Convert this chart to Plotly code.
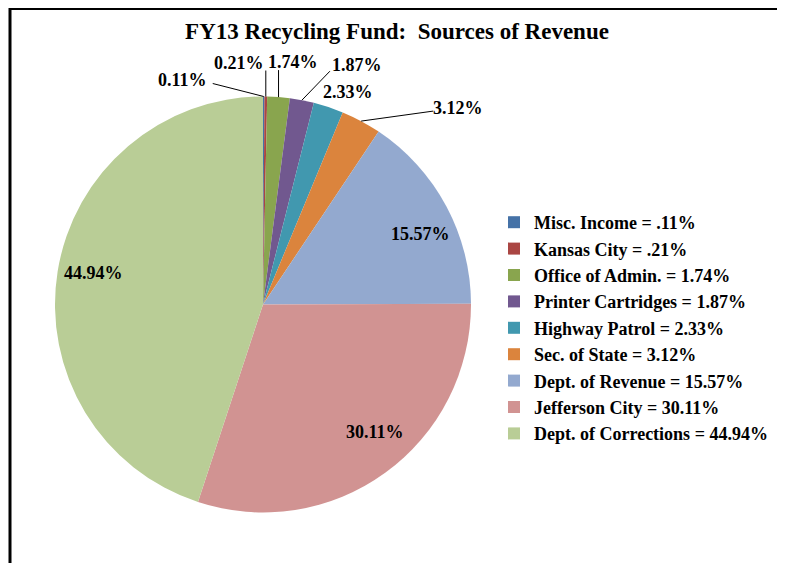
import math
import plotly.graph_objects as go

# ---------------- data ----------------
categories = ["Misc. Income", "Kansas City", "Office of Admin.", "Printer Cartridges",
              "Highway Patrol", "Sec. of State", "Dept. of Revenue", "Jefferson City",
              "Dept. of Corrections"]
values = [0.11, 0.21, 1.74, 1.87, 2.33, 3.12, 15.57, 30.11, 44.94]
title_text = "FY13 Recycling Fund:  Sources of Revenue"

# ---------------- styling ----------------
colors = ["#4572A7", "#AA4643", "#89A54E", "#71588F", "#4198AF", "#DB843D",
          "#93A9CF", "#D19392", "#B9CD96"]
W, H = 785, 563
OFF = 8                               # page body margin
CX, CY, R = 263, 304.5, 208          # pie centre / radius in window pixels
FONT = "Liberation Serif"

# label placement (pixel offsets from the slice's outer mid-point)
# (text_dx, text_dy, line_end_dx, line_end_dy or None)
label_offsets = [
    (-81, -17, -51, -13),
    (-27, -34, 0, -26),
    (14, -35, 0, -27),
    (55, -35, 28, -29),
    (20, -15, None, None),
    (97, -13, 72, -10),
    (-26, 28, None, None),
    (-10, -41, None, None),
    (36, 1, None, None),
]


def px(x):
    return (x - OFF) / W


def py(y):
    return 1 - (y - OFF) / H


def fmt_legend(v):
    s = f"{v:.2f}%"
    return s[1:] if s.startswith("0") else s


legend_labels = [f"{c} = {fmt_legend(v)}" for c, v in zip(categories, values)]

fig = go.Figure()
fig.add_trace(go.Pie(
    labels=legend_labels,
    values=values,
    sort=False,
    direction="clockwise",
    rotation=0,
    marker=dict(colors=colors, line=dict(width=0)),
    textinfo="none",
    hoverinfo="label+percent",
    domain=dict(x=[px(CX - R), px(CX + R)], y=[py(CY + R), py(CY - R)]),
))

# compute slice mid angles from data
total = sum(values)
annotations = []
shapes = []
cum = 0.0
for v, off in zip(values, label_offsets):
    mid = (cum + v / 2) / total * 2 * math.pi
    cum += v
    ex = CX + R * math.sin(mid)
    ey = CY - R * math.cos(mid)
    tdx, tdy, ldx, ldy = off
    annotations.append(dict(
        x=px(ex + tdx), y=py(ey + tdy), xref="paper", yref="paper",
        text=f"{v:.2f}%", showarrow=False, xanchor="center", yanchor="middle",
        font=dict(family=FONT, size=18, color="black", weight="bold"),
    ))
    if ldx is not None:
        shapes.append(dict(
            type="line", xref="paper", yref="paper",
            x0=px(ex), y0=py(ey), x1=px(ex + ldx), y1=py(ey + ldy),
            line=dict(color="black", width=1),
        ))

# outer frame
shapes.append(dict(type="rect", xref="paper", yref="paper",
                   x0=px(10), x1=px(779), y0=py(8.5), y1=py(H + 30),
                   line=dict(color="black", width=3), fillcolor="rgba(0,0,0,0)"))

fig.update_layout(
    width=W, height=H,
    margin=dict(l=0, r=0, t=0, b=0),
    paper_bgcolor="white",
    plot_bgcolor="white",
    title=dict(text=title_text, x=px(397), y=py(31), xanchor="center", yanchor="middle",
               font=dict(family=FONT, size=23, color="black", weight="bold")),
    showlegend=True,
    legend=dict(x=px(494), y=py(204), xanchor="left", yanchor="top",
                font=dict(family=FONT, size=18, color="black", weight="bold"),
                bgcolor="rgba(0,0,0,0)", traceorder="normal"),
    annotations=annotations,
    shapes=shapes,
)

fig.write_html("out.html")
